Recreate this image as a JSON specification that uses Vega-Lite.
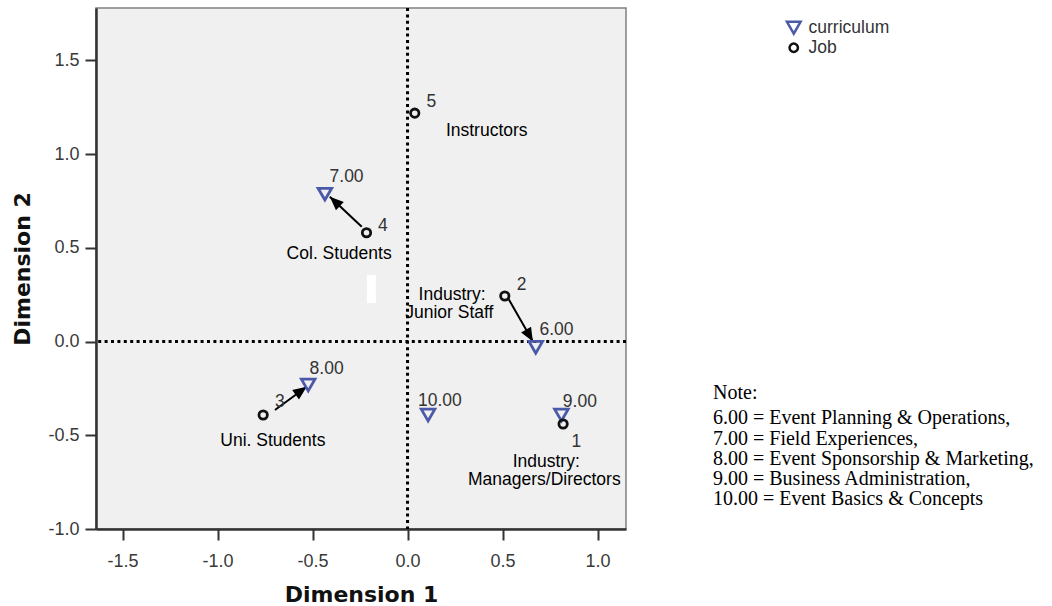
{
  "$schema": "https://vega.github.io/schema/vega-lite/v6.json",
  "width": 530,
  "height": 521,
  "autosize": {"type": "none"},
  "padding": {"left": 96, "top": 8, "right": 426, "bottom": 77},
  "background": "white",
  "config": {
    "view": {"fill": "#f0f0f0", "stroke": "#808080", "strokeWidth": 1.5},
    "font": "Liberation Sans",
    "axis": {
      "grid": false,
      "domainColor": "#333333",
      "domainWidth": 2.5,
      "tickColor": "#333333",
      "tickWidth": 2,
      "tickSize": 11,
      "labelFont": "Liberation Sans",
      "labelFontSize": 18,
      "labelColor": "#3a3a3a",
      "titleFont": "DejaVu Sans",
      "titleFontSize": 22,
      "titleFontWeight": "bold",
      "titleColor": "#111111"
    },
    "legend": {
      "orient": "none",
      "legendX": 689,
      "legendY": 11,
      "padding": 0,
      "labelFont": "Liberation Sans",
      "labelFontSize": 17.5,
      "labelColor": "#333333",
      "symbolStrokeWidth": 2.5,
      "symbolSize": 120,
      "rowPadding": -1,
      "labelOffset": 6
    }
  },
  "title": {
    "text": "Note:",
    "subtitle": [
      "6.00 = Event Planning & Operations,",
      "7.00 = Field Experiences,",
      "8.00 = Event Sponsorship & Marketing,",
      "9.00 = Business Administration,",
      "10.00 = Event Basics & Concepts"
    ],
    "orient": "top",
    "anchor": "start",
    "frame": "group",
    "align": "left",
    "baseline": "top",
    "offset": 0,
    "dx": 617,
    "dy": 503,
    "font": "Liberation Serif",
    "fontSize": 20,
    "fontWeight": "normal",
    "color": "#000000",
    "subtitleFont": "Liberation Serif",
    "subtitleFontSize": 20,
    "subtitleFontWeight": "normal",
    "subtitleColor": "#000000",
    "subtitleLineHeight": 20.3,
    "subtitlePadding": 5
  },
  "datasets": {
    "points": [
      {"type": "curriculum", "name": "6.00", "x": 0.675, "y": -0.031},
      {"type": "curriculum", "name": "7.00", "x": -0.435, "y": 0.786},
      {"type": "curriculum", "name": "8.00", "x": -0.523, "y": -0.232},
      {"type": "curriculum", "name": "9.00", "x": 0.81, "y": -0.392},
      {"type": "curriculum", "name": "10.00", "x": 0.108, "y": -0.392},
      {"type": "Job", "name": "1", "x": 0.819, "y": -0.44},
      {"type": "Job", "name": "2", "x": 0.512, "y": 0.243},
      {"type": "Job", "name": "3", "x": -0.76, "y": -0.392},
      {"type": "Job", "name": "4", "x": -0.216, "y": 0.58},
      {"type": "Job", "name": "5", "x": 0.038, "y": 1.218}
    ],
    "arrows": [
      {"id": "A", "x": -0.241, "y": 0.612, "x2": -0.409, "y2": 0.772},
      {"id": "B", "x": -0.698, "y": -0.365, "x2": -0.531, "y2": -0.241},
      {"id": "C", "x": 0.528, "y": 0.233, "x2": 0.66, "y2": 0.0}
    ],
    "numlabels": [
      {"text": "5", "x": 0.126, "y": 1.279},
      {"text": "4", "x": -0.13, "y": 0.616},
      {"text": "3", "x": -0.672, "y": -0.321},
      {"text": "2", "x": 0.6, "y": 0.301},
      {"text": "1", "x": 0.889, "y": -0.534},
      {"text": "7.00", "x": -0.321, "y": 0.879},
      {"text": "8.00", "x": -0.426, "y": -0.148},
      {"text": "10.00", "x": 0.17, "y": -0.317},
      {"text": "6.00", "x": 0.784, "y": 0.061},
      {"text": "9.00", "x": 0.907, "y": -0.321}
    ],
    "grouplabels": [
      {"text": "Instructors", "x": 0.417, "y": 1.122},
      {"text": "Col. Students", "x": -0.36, "y": 0.467},
      {"text": "Uni. Students", "x": -0.709, "y": -0.531},
      {"text": "Industry:", "x": 0.235, "y": 0.248},
      {"text": "Junior Staff", "x": 0.22, "y": 0.152},
      {"text": "Industry:", "x": 0.73, "y": -0.643},
      {"text": "Managers/Directors", "x": 0.72, "y": -0.739}
    ],
    "artifact": [
      {"x": -0.214, "x2": -0.167, "y": 0.355, "y2": 0.205}
    ],
    "zero": [
      {"v": 0}
    ]
  },
  "layer": [
    {
      "data": {"name": "artifact"},
      "mark": {"type": "rect", "color": "#ffffff"},
      "encoding": {
        "x": {"field": "x", "type": "quantitative", "scale": {"domain": [-1.64, 1.15], "nice": false, "zero": false},
          "axis": {"title": "Dimension 1", "values": [-1.5, -1, -0.5, 0, 0.5, 1], "labelExpr": "replace(format(datum.value, '.1f'), '−', '-')", "labelPadding": 12, "titlePadding": 14}},
        "x2": {"field": "x2"},
        "y": {"field": "y", "type": "quantitative", "scale": {"domain": [-1.0, 1.779], "nice": false, "zero": false},
          "axis": {"title": "Dimension 2", "values": [-1, -0.5, 0, 0.5, 1, 1.5], "labelExpr": "replace(format(datum.value, '.1f'), '−', '-')", "labelPadding": 6, "titlePadding": 13}},
        "y2": {"field": "y2"}
      }
    },
    {
      "data": {"name": "zero"},
      "mark": {"type": "rule", "color": "#000000", "strokeWidth": 3, "strokeDash": [3, 3.4]},
      "encoding": {
        "x": {"field": "v", "type": "quantitative", "scale": {"domain": [-1.64, 1.15], "nice": false, "zero": false},
          "axis": {"title": "Dimension 1", "values": [-1.5, -1, -0.5, 0, 0.5, 1], "labelExpr": "replace(format(datum.value, '.1f'), '−', '-')", "labelPadding": 12, "titlePadding": 14}}
      }
    },
    {
      "data": {"name": "zero"},
      "mark": {"type": "rule", "color": "#000000", "strokeWidth": 3, "strokeDash": [3, 3.4]},
      "encoding": {
        "y": {"field": "v", "type": "quantitative", "scale": {"domain": [-1.0, 1.779], "nice": false, "zero": false},
          "axis": {"title": "Dimension 2", "values": [-1, -0.5, 0, 0.5, 1, 1.5], "labelExpr": "replace(format(datum.value, '.1f'), '−', '-')", "labelPadding": 6, "titlePadding": 13}}
      }
    },
    {
      "data": {"name": "arrows"},
      "mark": {"type": "rule", "color": "#000000", "strokeWidth": 2},
      "encoding": {
        "x": {"field": "x", "type": "quantitative", "scale": {"domain": [-1.64, 1.15], "nice": false, "zero": false},
          "axis": {"title": "Dimension 1", "values": [-1.5, -1, -0.5, 0, 0.5, 1], "labelExpr": "replace(format(datum.value, '.1f'), '−', '-')", "labelPadding": 12, "titlePadding": 14}},
        "y": {"field": "y", "type": "quantitative", "scale": {"domain": [-1.0, 1.779], "nice": false, "zero": false},
          "axis": {"title": "Dimension 2", "values": [-1, -0.5, 0, 0.5, 1, 1.5], "labelExpr": "replace(format(datum.value, '.1f'), '−', '-')", "labelPadding": 6, "titlePadding": 13}},
        "x2": {"field": "x2"},
        "y2": {"field": "y2"}
      }
    },
    {
      "data": {"name": "arrows"},
      "transform": [{"filter": "datum.id === 'A'"}],
      "mark": {"type": "point", "shape": "M0,0L0.42,1L-0.42,1Z", "filled": true, "color": "#000000", "size": 750, "angle": 313, "opacity": 1},
      "encoding": {
        "x": {"field": "x2", "type": "quantitative", "scale": {"domain": [-1.64, 1.15], "nice": false, "zero": false},
          "axis": {"title": "Dimension 1", "values": [-1.5, -1, -0.5, 0, 0.5, 1], "labelExpr": "replace(format(datum.value, '.1f'), '−', '-')", "labelPadding": 12, "titlePadding": 14}},
        "y": {"field": "y2", "type": "quantitative", "scale": {"domain": [-1.0, 1.779], "nice": false, "zero": false},
          "axis": {"title": "Dimension 2", "values": [-1, -0.5, 0, 0.5, 1, 1.5], "labelExpr": "replace(format(datum.value, '.1f'), '−', '-')", "labelPadding": 6, "titlePadding": 13}}
      }
    },
    {
      "data": {"name": "arrows"},
      "transform": [{"filter": "datum.id === 'B'"}],
      "mark": {"type": "point", "shape": "M0,0L0.42,1L-0.42,1Z", "filled": true, "color": "#000000", "size": 750, "angle": 54, "opacity": 1},
      "encoding": {
        "x": {"field": "x2", "type": "quantitative", "scale": {"domain": [-1.64, 1.15], "nice": false, "zero": false},
          "axis": {"title": "Dimension 1", "values": [-1.5, -1, -0.5, 0, 0.5, 1], "labelExpr": "replace(format(datum.value, '.1f'), '−', '-')", "labelPadding": 12, "titlePadding": 14}},
        "y": {"field": "y2", "type": "quantitative", "scale": {"domain": [-1.0, 1.779], "nice": false, "zero": false},
          "axis": {"title": "Dimension 2", "values": [-1, -0.5, 0, 0.5, 1, 1.5], "labelExpr": "replace(format(datum.value, '.1f'), '−', '-')", "labelPadding": 6, "titlePadding": 13}}
      }
    },
    {
      "data": {"name": "arrows"},
      "transform": [{"filter": "datum.id === 'C'"}],
      "mark": {"type": "point", "shape": "M0,0L0.42,1L-0.42,1Z", "filled": true, "color": "#000000", "size": 750, "angle": 150, "opacity": 1},
      "encoding": {
        "x": {"field": "x2", "type": "quantitative", "scale": {"domain": [-1.64, 1.15], "nice": false, "zero": false},
          "axis": {"title": "Dimension 1", "values": [-1.5, -1, -0.5, 0, 0.5, 1], "labelExpr": "replace(format(datum.value, '.1f'), '−', '-')", "labelPadding": 12, "titlePadding": 14}},
        "y": {"field": "y2", "type": "quantitative", "scale": {"domain": [-1.0, 1.779], "nice": false, "zero": false},
          "axis": {"title": "Dimension 2", "values": [-1, -0.5, 0, 0.5, 1, 1.5], "labelExpr": "replace(format(datum.value, '.1f'), '−', '-')", "labelPadding": 6, "titlePadding": 13}}
      }
    },
    {
      "data": {"name": "points"},
      "mark": {"type": "point", "filled": false, "strokeWidth": 2.8, "opacity": 1},
      "encoding": {
        "x": {"field": "x", "type": "quantitative", "scale": {"domain": [-1.64, 1.15], "nice": false, "zero": false},
          "axis": {"title": "Dimension 1", "values": [-1.5, -1, -0.5, 0, 0.5, 1], "labelExpr": "replace(format(datum.value, '.1f'), '−', '-')", "labelPadding": 12, "titlePadding": 14}},
        "y": {"field": "y", "type": "quantitative", "scale": {"domain": [-1.0, 1.779], "nice": false, "zero": false},
          "axis": {"title": "Dimension 2", "values": [-1, -0.5, 0, 0.5, 1, 1.5], "labelExpr": "replace(format(datum.value, '.1f'), '−', '-')", "labelPadding": 6, "titlePadding": 13}},
        "shape": {"field": "type", "type": "nominal", "scale": {"domain": ["curriculum", "Job"], "range": ["triangle-down", "circle"]}, "legend": {"title": null}},
        "color": {"field": "type", "type": "nominal", "scale": {"domain": ["curriculum", "Job"], "range": ["#4b5aa8", "#111111"]}, "legend": {"title": null}},
        "size": {"field": "type", "type": "nominal", "scale": {"domain": ["curriculum", "Job"], "range": [185, 70]}, "legend": null}
      }
    },
    {
      "data": {"name": "numlabels"},
      "mark": {"type": "text", "font": "Liberation Sans", "fontSize": 17.5, "color": "#333333", "align": "center", "baseline": "middle"},
      "encoding": {
        "x": {"field": "x", "type": "quantitative", "scale": {"domain": [-1.64, 1.15], "nice": false, "zero": false},
          "axis": {"title": "Dimension 1", "values": [-1.5, -1, -0.5, 0, 0.5, 1], "labelExpr": "replace(format(datum.value, '.1f'), '−', '-')", "labelPadding": 12, "titlePadding": 14}},
        "y": {"field": "y", "type": "quantitative", "scale": {"domain": [-1.0, 1.779], "nice": false, "zero": false},
          "axis": {"title": "Dimension 2", "values": [-1, -0.5, 0, 0.5, 1, 1.5], "labelExpr": "replace(format(datum.value, '.1f'), '−', '-')", "labelPadding": 6, "titlePadding": 13}},
        "text": {"field": "text"}
      }
    },
    {
      "data": {"name": "grouplabels"},
      "mark": {"type": "text", "font": "Liberation Sans", "fontSize": 17.5, "color": "#000000", "align": "center", "baseline": "middle"},
      "encoding": {
        "x": {"field": "x", "type": "quantitative", "scale": {"domain": [-1.64, 1.15], "nice": false, "zero": false},
          "axis": {"title": "Dimension 1", "values": [-1.5, -1, -0.5, 0, 0.5, 1], "labelExpr": "replace(format(datum.value, '.1f'), '−', '-')", "labelPadding": 12, "titlePadding": 14}},
        "y": {"field": "y", "type": "quantitative", "scale": {"domain": [-1.0, 1.779], "nice": false, "zero": false},
          "axis": {"title": "Dimension 2", "values": [-1, -0.5, 0, 0.5, 1, 1.5], "labelExpr": "replace(format(datum.value, '.1f'), '−', '-')", "labelPadding": 6, "titlePadding": 13}},
        "text": {"field": "text"}
      }
    }
  ]
}
